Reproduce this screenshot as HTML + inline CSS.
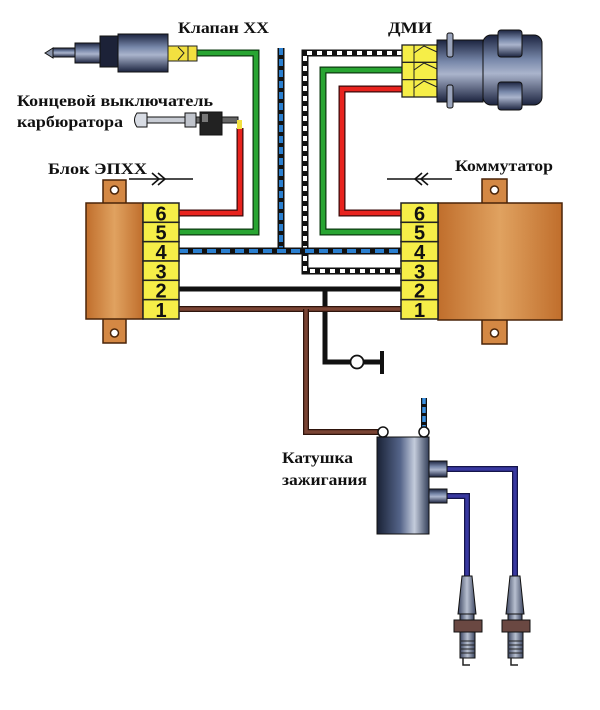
<!DOCTYPE html>
<html><head><meta charset="utf-8">
<style>
html,body{margin:0;padding:0;background:#fff;}
svg{display:block;}
text{font-family:"Liberation Serif","Noto Serif CJK SC",serif;font-weight:bold;fill:#111;}
.num{font-family:"Liberation Sans","DejaVu Sans",sans-serif;font-weight:bold;font-size:20px;fill:#111;}
</style></head>
<body>
<svg width="600" height="710" viewBox="0 0 600 710" xmlns="http://www.w3.org/2000/svg">
<defs>
<linearGradient id="orange" x1="0" y1="0" x2="1" y2="0">
<stop offset="0" stop-color="#c06e2c"/><stop offset="0.5" stop-color="#e0a260"/><stop offset="1" stop-color="#c06e2c"/>
</linearGradient>
<linearGradient id="metal" x1="0" y1="0" x2="0" y2="1">
<stop offset="0" stop-color="#1c2440"/><stop offset="0.35" stop-color="#7888aa"/><stop offset="0.55" stop-color="#aab4cc"/><stop offset="1" stop-color="#1c2440"/>
</linearGradient>
<linearGradient id="coil" x1="0" y1="0" x2="1" y2="0">
<stop offset="0" stop-color="#1a2236"/><stop offset="0.45" stop-color="#55658a"/><stop offset="0.72" stop-color="#c4ccdc"/><stop offset="1" stop-color="#34405a"/>
</linearGradient>
<linearGradient id="plug" x1="0" y1="0" x2="1" y2="0">
<stop offset="0" stop-color="#3a4460"/><stop offset="0.5" stop-color="#b8c0d0"/><stop offset="1" stop-color="#3a4460"/>
</linearGradient>
</defs>

<!-- Labels -->
<text x="178" y="33" font-size="16" textLength="91" lengthAdjust="spacingAndGlyphs">Клапан ХХ</text>
<text x="17" y="106" font-size="16" textLength="196" lengthAdjust="spacingAndGlyphs">Концевой выключатель</text>
<text x="17" y="127" font-size="16" textLength="106" lengthAdjust="spacingAndGlyphs">карбюратора</text>
<text x="48" y="174" font-size="16" textLength="99" lengthAdjust="spacingAndGlyphs">Блок ЭПХХ</text>
<text x="388" y="33" font-size="16" textLength="44" lengthAdjust="spacingAndGlyphs">ДМИ</text>
<text x="455" y="171" font-size="16" textLength="98" lengthAdjust="spacingAndGlyphs">Коммутатор</text>
<text x="282" y="463" font-size="16" textLength="71" lengthAdjust="spacingAndGlyphs">Катушка</text>
<text x="282" y="485" font-size="16" textLength="85" lengthAdjust="spacingAndGlyphs">зажигания</text>

<!-- Arrows -->
<line x1="129" y1="179" x2="193" y2="179" stroke="#111" stroke-width="1.6"/>
<polyline points="152,173 159,179 152,185" fill="none" stroke="#111" stroke-width="1.6"/>
<polyline points="158,173 165,179 158,185" fill="none" stroke="#111" stroke-width="1.6"/>
<line x1="387" y1="179" x2="452" y2="179" stroke="#111" stroke-width="1.6"/>
<polyline points="422,173 415,179 422,185" fill="none" stroke="#111" stroke-width="1.6"/>
<polyline points="428,173 421,179 428,185" fill="none" stroke="#111" stroke-width="1.6"/>

<!-- Wires -->
<g fill="none" stroke-linejoin="miter" stroke-linecap="butt">
<polyline points="179,213 240,213 240,128" stroke="#3a0a0a" stroke-width="7"/>
<polyline points="179,213 240,213 240,128" stroke="#e8231e" stroke-width="4.5"/>
<polyline points="179,232 256,232 256,53 197,53" stroke="#0c3a10" stroke-width="7"/>
<polyline points="179,232 256,232 256,53 197,53" stroke="#28a532" stroke-width="4.5"/>
<polyline points="402,70 323,70 323,232 401,232" stroke="#0c3a10" stroke-width="7"/>
<polyline points="402,70 323,70 323,232 401,232" stroke="#28a532" stroke-width="4.5"/>
<polyline points="402,89 342,89 342,213 401,213" stroke="#3a0a0a" stroke-width="7"/>
<polyline points="402,89 342,89 342,213 401,213" stroke="#e8231e" stroke-width="4.5"/>
<polyline points="402,53 305,53 305,271 401,271" stroke="#111" stroke-width="7"/>
<polyline points="402,53 305,53 305,271 401,271" stroke="#fff" stroke-width="4" stroke-dasharray="5 5"/>
<polyline points="281,48 281,251" stroke="#111" stroke-width="7"/>
<polyline points="281,48 281,251" stroke="#2a7fd0" stroke-width="4" stroke-dasharray="7 4"/>
<polyline points="179,251 401,251" stroke="#111" stroke-width="7"/>
<polyline points="179,251 401,251" stroke="#2a7fd0" stroke-width="4" stroke-dasharray="9 5"/>
<polyline points="179,289 401,289" stroke="#111" stroke-width="5"/>
<polyline points="325,289 325,362 382,362" stroke="#111" stroke-width="5"/>
<line x1="382" y1="351" x2="382" y2="374" stroke="#111" stroke-width="4"/>
<polyline points="179,309 401,309" stroke="#2e140c" stroke-width="6"/>
<polyline points="179,309 401,309" stroke="#7a4434" stroke-width="3.5"/>
<polyline points="306,309 306,432 380,432" stroke="#2e140c" stroke-width="6"/>
<polyline points="306,309 306,432 380,432" stroke="#7a4434" stroke-width="3.5"/>
<line x1="424" y1="398" x2="424" y2="428" stroke="#111" stroke-width="6"/>
<line x1="424" y1="398" x2="424" y2="428" stroke="#3a90e0" stroke-width="3.5" stroke-dasharray="6 3"/>
<polyline points="447,469 515,469 515,578" stroke="#14144a" stroke-width="6"/>
<polyline points="447,469 515,469 515,578" stroke="#3838a0" stroke-width="3.5"/>
<polyline points="447,496 467,496 467,578" stroke="#14144a" stroke-width="6"/>
<polyline points="447,496 467,496 467,578" stroke="#3838a0" stroke-width="3.5"/>
</g>
<circle cx="357" cy="362" r="6.5" fill="#fff" stroke="#111" stroke-width="1.8"/>

<!-- Left block -->
<rect x="103" y="180" width="23" height="26" fill="#d48844" stroke="#4a2408" stroke-width="1.5"/>
<circle cx="114.5" cy="190" r="4" fill="#fff" stroke="#4a2408" stroke-width="1.5"/>
<rect x="103" y="316" width="23" height="27" fill="#d48844" stroke="#4a2408" stroke-width="1.5"/>
<circle cx="114.5" cy="333" r="4" fill="#fff" stroke="#4a2408" stroke-width="1.5"/>
<rect x="86" y="203" width="57" height="116" fill="url(#orange)" stroke="#4a2408" stroke-width="1.5"/>
<g stroke="#222" stroke-width="1.5" fill="#f6ee48">
<rect x="143" y="203" width="36" height="19.33"/>
<rect x="143" y="222.33" width="36" height="19.33"/>
<rect x="143" y="241.67" width="36" height="19.33"/>
<rect x="143" y="261" width="36" height="19.33"/>
<rect x="143" y="280.33" width="36" height="19.33"/>
<rect x="143" y="299.67" width="36" height="19.33"/>
</g>
<g text-anchor="middle">
<text class="num" x="161" y="220.5">6</text>
<text class="num" x="161" y="239.5">5</text>
<text class="num" x="161" y="259">4</text>
<text class="num" x="161" y="278.5">3</text>
<text class="num" x="161" y="297.5">2</text>
<text class="num" x="161" y="317">1</text>
</g>

<!-- Right block -->
<rect x="482" y="179" width="25" height="27" fill="#d48844" stroke="#4a2408" stroke-width="1.5"/>
<circle cx="494.5" cy="190" r="4" fill="#fff" stroke="#4a2408" stroke-width="1.5"/>
<rect x="482" y="316" width="25" height="28" fill="#d48844" stroke="#4a2408" stroke-width="1.5"/>
<circle cx="494.5" cy="333" r="4" fill="#fff" stroke="#4a2408" stroke-width="1.5"/>
<rect x="438" y="203" width="124" height="117" fill="url(#orange)" stroke="#4a2408" stroke-width="1.5"/>
<g stroke="#222" stroke-width="1.5" fill="#f6ee48">
<rect x="401" y="203" width="37" height="19.33"/>
<rect x="401" y="222.33" width="37" height="19.33"/>
<rect x="401" y="241.67" width="37" height="19.33"/>
<rect x="401" y="261" width="37" height="19.33"/>
<rect x="401" y="280.33" width="37" height="19.33"/>
<rect x="401" y="299.67" width="37" height="19.33"/>
</g>
<g text-anchor="middle">
<text class="num" x="419.5" y="220.5">6</text>
<text class="num" x="419.5" y="239.5">5</text>
<text class="num" x="419.5" y="259">4</text>
<text class="num" x="419.5" y="278.5">3</text>
<text class="num" x="419.5" y="297.5">2</text>
<text class="num" x="419.5" y="317">1</text>
</g>

<!-- Valve -->
<polygon points="45,53 53,48 53,58" fill="#8a94aa" stroke="#111" stroke-width="1"/>
<rect x="53" y="48" width="22" height="9" fill="url(#metal)" stroke="#111" stroke-width="1"/>
<rect x="75" y="43" width="25" height="20" fill="url(#metal)" stroke="#111" stroke-width="1"/>
<rect x="100" y="36" width="18" height="31" fill="#1c2238" stroke="#111" stroke-width="1"/>
<rect x="118" y="34" width="50" height="38" fill="url(#metal)" stroke="#111" stroke-width="1"/>
<rect x="168" y="46" width="29" height="15" fill="#f2e040" stroke="#222" stroke-width="1"/>
<polyline points="178,47 184,53 178,60" fill="none" stroke="#222" stroke-width="1"/>
<line x1="188" y1="46" x2="188" y2="61" stroke="#222" stroke-width="1"/>

<!-- Limit switch -->
<path d="M137,113 Q132,120 137,127 L147,127 L147,113 Z" fill="#d8dce4" stroke="#111" stroke-width="1"/>
<rect x="147" y="117" width="38" height="6" fill="#c8ccd4" stroke="#111" stroke-width="1"/>
<rect x="185" y="113" width="11" height="14" fill="#c0c4cc" stroke="#111" stroke-width="1"/>
<rect x="196" y="117" width="42" height="6" fill="#666" stroke="#111" stroke-width="1"/>
<rect x="200" y="112" width="22" height="23" fill="#222" stroke="#111" stroke-width="1"/>
<rect x="202" y="114" width="6" height="8" fill="#777"/>
<rect x="237" y="120" width="5" height="9" fill="#f2e040"/>

<!-- ДМИ -->
<rect x="402" y="45" width="35" height="52" fill="#f6ee48" stroke="#222" stroke-width="1.3"/>
<line x1="402" y1="62.3" x2="437" y2="62.3" stroke="#222" stroke-width="1.3"/>
<line x1="402" y1="79.6" x2="437" y2="79.6" stroke="#222" stroke-width="1.3"/>
<line x1="414" y1="45" x2="414" y2="97" stroke="#222" stroke-width="1"/>
<polyline points="414,53 424,46 437,52" fill="none" stroke="#222" stroke-width="1"/>
<polyline points="414,70 424,63 437,69" fill="none" stroke="#222" stroke-width="1"/>
<polyline points="414,88 424,81 437,87" fill="none" stroke="#222" stroke-width="1"/>
<rect x="437" y="40" width="46" height="62" fill="url(#metal)" stroke="#111" stroke-width="1"/>
<rect x="447" y="33" width="6" height="24" rx="2" fill="#9aa4bc" stroke="#111" stroke-width="1"/>
<rect x="447" y="85" width="6" height="23" rx="2" fill="#9aa4bc" stroke="#111" stroke-width="1"/>
<rect x="483" y="35" width="59" height="70" rx="8" fill="url(#metal)" stroke="#111" stroke-width="1"/>
<rect x="498" y="30" width="24" height="27" rx="3" fill="url(#metal)" stroke="#111" stroke-width="1"/>
<rect x="498" y="82" width="24" height="28" rx="3" fill="url(#metal)" stroke="#111" stroke-width="1"/>

<!-- Coil -->
<rect x="377" y="437" width="52" height="97" fill="url(#coil)" stroke="#111" stroke-width="1"/>
<rect x="429" y="461" width="18" height="16" fill="url(#metal)" stroke="#111" stroke-width="1"/>
<rect x="429" y="489" width="18" height="14" fill="url(#metal)" stroke="#111" stroke-width="1"/>
<circle cx="383" cy="432" r="5" fill="#fff" stroke="#111" stroke-width="1.5"/>
<circle cx="424" cy="432" r="5" fill="#fff" stroke="#111" stroke-width="1.5"/>

<!-- Spark plugs -->
<g>
<polygon points="462,576 472,576 476,614 458,614" fill="url(#plug)" stroke="#111" stroke-width="1"/>
<rect x="460" y="614" width="14" height="6" fill="url(#plug)" stroke="#111" stroke-width="1"/>
<rect x="454" y="620" width="28" height="12" fill="#6a4842" stroke="#111" stroke-width="1"/>
<rect x="460" y="632" width="15" height="26" fill="url(#plug)" stroke="#111" stroke-width="1"/>
<g stroke="#222" stroke-width="1"><line x1="461" y1="641" x2="475" y2="641"/><line x1="461" y1="645" x2="475" y2="645"/><line x1="461" y1="649" x2="475" y2="649"/><line x1="461" y1="653" x2="475" y2="653"/></g>
<path d="M463,658 L463,665 L470,665" fill="none" stroke="#222" stroke-width="1.5"/>
</g>
<g transform="translate(48,0)">
<polygon points="462,576 472,576 476,614 458,614" fill="url(#plug)" stroke="#111" stroke-width="1"/>
<rect x="460" y="614" width="14" height="6" fill="url(#plug)" stroke="#111" stroke-width="1"/>
<rect x="454" y="620" width="28" height="12" fill="#6a4842" stroke="#111" stroke-width="1"/>
<rect x="460" y="632" width="15" height="26" fill="url(#plug)" stroke="#111" stroke-width="1"/>
<g stroke="#222" stroke-width="1"><line x1="461" y1="641" x2="475" y2="641"/><line x1="461" y1="645" x2="475" y2="645"/><line x1="461" y1="649" x2="475" y2="649"/><line x1="461" y1="653" x2="475" y2="653"/></g>
<path d="M463,658 L463,665 L470,665" fill="none" stroke="#222" stroke-width="1.5"/>
</g>
</svg>
</body></html>
